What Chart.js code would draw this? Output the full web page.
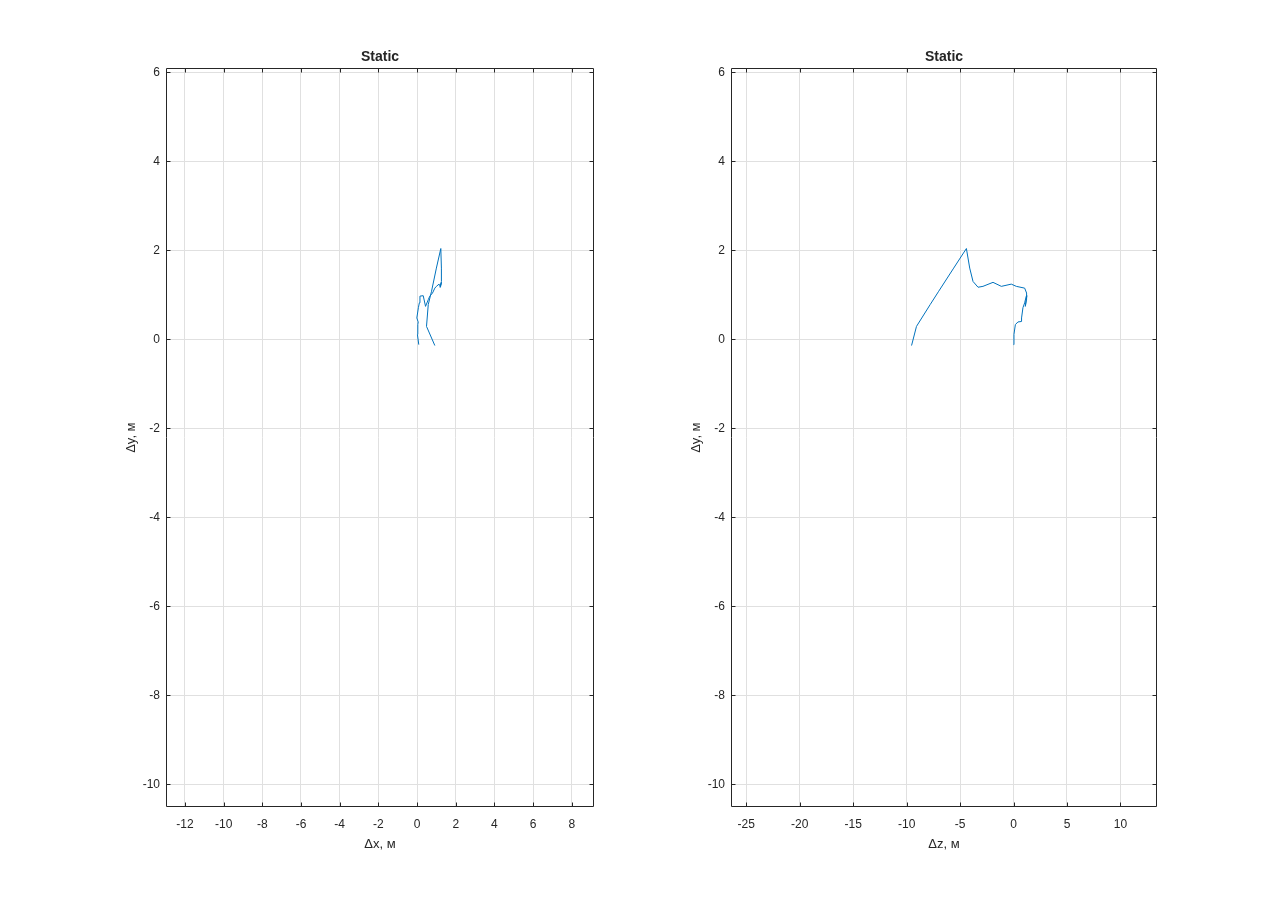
<!DOCTYPE html>
<html lang="ru">
<head>
<meta charset="UTF-8"/>
<script src="https://cdn.jsdelivr.net/npm/chart.js@4"></script>
<style>
    html, body { margin: 0; padding: 0; background: #fff; }
    .plot { position: absolute; top: 0; width: 640px; height: 908px; }
</style>
</head>
<body>
<div class="plot" style="left:0"><canvas id="xyChart" width="640" height="908"></canvas></div>
<div class="plot" style="left:640px"><canvas id="zyChart" width="640" height="908"></canvas></div>
<script>
// trajectory, metres (one sample per index, shared by both views)
const dx = [0.09, 0.02, 0.04, 0.06, 0.05, -0.01, 0.07, 0.12, 0.15, 0.32, 0.44, 0.58, 0.66, 0.80, 0.92, 1.00, 1.14, 1.20, 1.26, 1.22, 1.20, 1.26, 1.26, 1.23, 1.00, 0.75, 0.58, 0.49, 0.92];
const dy = [-0.12, 0.11, 0.33, 0.39, 0.40, 0.48, 0.71, 0.82, 0.97, 0.98, 0.74, 0.89, 0.97, 1.04, 1.15, 1.19, 1.24, 1.19, 1.28, 1.19, 1.17, 1.30, 1.60, 2.04, 1.60, 1.08, 0.78, 0.29, -0.14];
const dz = [0.00, 0.04, 0.17, 0.41, 0.73, 0.75, 0.88, 1.04, 1.19, 1.25, 1.10, 1.20, 1.25, 1.19, 1.04, 0.26, -0.21, -1.14, -1.92, -2.86, -3.32, -3.79, -4.10, -4.41, -5.60, -7.00, -7.80, -9.08, -9.54];

const xTicks = [-12, -10, -8, -6, -4, -2, 0, 2, 4, 6, 8];
const zTicks = [-25, -20, -15, -10, -5, 0, 5, 10];
const yTicks = [-10, -8, -6, -4, -2, 0, 2, 4, 6];

const txt = '#262626';
const gridCol = '#e0e0e0';
const fontFam = '"Liberation Sans", Arial, Helvetica, sans-serif';

// matlab-style box with inward ticks on all four sides
const framePlugin = {
    id: 'frame',
    afterDraw(chart) {
        const {ctx, chartArea: a, scales} = chart;
        const L = Math.round(a.left) + 0.5, R = Math.round(a.right) - 0.5;
        const T = Math.round(a.top) + 0.5, B = Math.round(a.bottom) - 0.5;
        ctx.save();
        ctx.strokeStyle = txt;
        ctx.lineWidth = 1;
        ctx.beginPath();
        ctx.rect(L, T, R - L, B - T);
        const len = 4;
        scales.x.ticks.forEach(t => {
            const p = Math.round(scales.x.getPixelForValue(t.value)) + 0.5;
            ctx.moveTo(p, B); ctx.lineTo(p, B - len);
            ctx.moveTo(p, T); ctx.lineTo(p, T + len);
        });
        scales.y.ticks.forEach(t => {
            const p = Math.round(scales.y.getPixelForValue(t.value)) + 0.5;
            ctx.moveTo(L, p); ctx.lineTo(L + len, p);
            ctx.moveTo(R, p); ctx.lineTo(R - len, p);
        });
        ctx.stroke();
        ctx.restore();
    }
};

function makeChart(id, hVals, hTicks, hMin, hMax, hTitle, padLeft, padRight) {
    const points = hVals.map((v, i) => ({x: v, y: dy[i]}));
    return new Chart(document.getElementById(id), {
        type: 'scatter',
        data: {
            datasets: [{
                data: points,
                showLine: true,
                borderColor: '#0072BD',
                borderWidth: 1,
                pointRadius: 0,
                tension: 0
            }]
        },
        options: {
            responsive: false,
            devicePixelRatio: 1,
            animation: false,
            layout: {padding: {left: padLeft, right: padRight, top: 49, bottom: 50}},
            plugins: {
                legend: {display: false},
                tooltip: {enabled: false},
                title: {
                    display: true,
                    text: 'Static',
                    fullSize: false,
                    color: txt,
                    font: {family: fontFam, size: 14, weight: 'bold'},
                    padding: {top: 0, bottom: 2.5}
                }
            },
            scales: {
                x: {
                    type: 'linear',
                    min: hMin,
                    max: hMax,
                    afterBuildTicks: s => { s.ticks = hTicks.map(v => ({value: v})); },
                    afterFit: s => { s.height = 51; },
                    grid: {color: gridCol, drawTicks: false},
                    border: {display: false},
                    ticks: {color: txt, font: {family: fontFam, size: 12}, padding: 10, maxRotation: 0},
                    title: {display: true, text: hTitle, color: txt, font: {family: fontFam, size: 13}, padding: {top: 0, bottom: 6}}
                },
                y: {
                    type: 'linear',
                    min: -10.51,
                    max: 6.09,
                    afterBuildTicks: s => { s.ticks = yTicks.map(v => ({value: v})); },
                    afterFit: s => { s.width = 48; },
                    grid: {color: gridCol, drawTicks: false},
                    border: {display: false},
                    ticks: {color: txt, font: {family: fontFam, size: 12}, padding: 6},
                    title: {display: true, text: 'Δy, м', color: txt, font: {family: fontFam, size: 13}, padding: {top: 6, bottom: 0}}
                }
            }
        },
        plugins: [framePlugin]
    });
}

makeChart('xyChart', dx, xTicks, -12.98, 9.15, 'Δx, м', 118, 46);
makeChart('zyChart', dz, zTicks, -26.43, 13.42, 'Δz, м', 43, 123);
</script>
</body>
</html>
